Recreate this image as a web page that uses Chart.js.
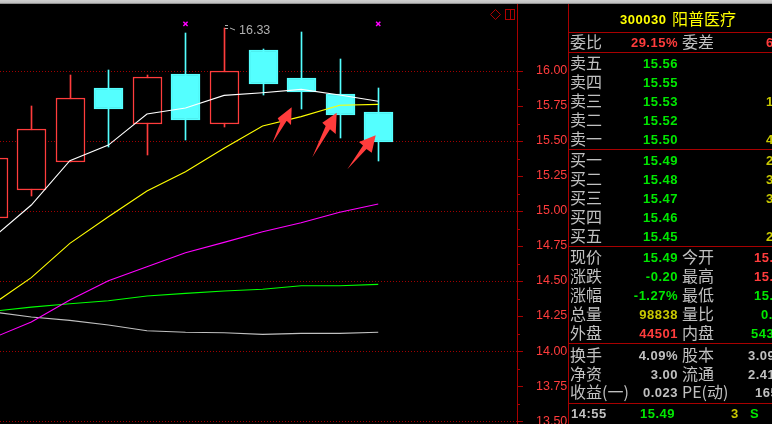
<!DOCTYPE html>
<html>
<head>
<meta charset="utf-8">
<script src="https://cdn.jsdelivr.net/npm/chart.js@4/dist/chart.umd.min.js"></script>
<style>
html, body { margin: 0; padding: 0; width: 772px; height: 424px; overflow: hidden; background: #000; }
#stage { position: relative; width: 772px; height: 424px; overflow: hidden; }
#topbar { position: absolute; left: 0; top: 0; width: 772px; height: 4px; background: linear-gradient(#d0d0d0, #c0c0c0 70%, #707070); }
canvas { position: absolute; left: 0; top: 0; }
#arrows, #icons { position: absolute; left: 0; top: 0; }
.t { position: absolute; height: 20px; white-space: pre; }
.cn { font: 16px/20px "Noto Sans CJK SC"; color: #c0c0c0; margin-top: -1px; }
.num { font: bold 13px/20px "Liberation Sans"; letter-spacing: .5px; margin-top: 1px; }
.hr { position: absolute; left: 569px; width: 203px; height: 1px; background: #a80000; }
</style>
</head>
<body>
<div id="stage">
  <canvas id="kline" width="772" height="424"></canvas>
  <div id="topbar"></div>
  <svg id="icons" width="772" height="424">
    <path d="M495.5 9.5 L500.5 14.5 L495.5 19.5 L490.5 14.5 Z" fill="none" stroke="#b00000"/>
    <rect x="505.5" y="9.5" width="9" height="10" fill="none" stroke="#b00000"/>
    <path d="M510.5 9.5 V19.5" stroke="#b00000"/>
    <path d="M568.5 4 V424" stroke="#a80000"/>
  </svg>
  <svg id="arrows" width="772" height="424">
    <path d="M272.3 143.3 L280.3 122.7 L277.7 118.3 L291.7 107.3 L291 125 L286.7 120.7 Z" fill="#ff3c3c"/>
    <path d="M312.3 157.3 L325.7 126 L322.3 122.7 L336.7 112.7 L335.7 134 L330 129.3 Z" fill="#ff3c3c"/>
    <path d="M347.3 169.3 L363 145.5 L359 142 L375.7 135.3 L371.7 152.7 L366.5 149 Z" fill="#ff3c3c"/>
  </svg>
</div>
<script>
// candles, index 0 is the one cut off by the left edge
const candleIndex = [0, 1, 2, 3, 4, 5, 6, 7, 8, 9, 10];
const opens  = [14.95, 15.148, 15.348, 15.879, 15.624, 15.979, 15.624, 16.15, 15.95, 15.836, 15.707];
const closes = [15.376, 15.584, 15.805, 15.731, 15.955, 15.65, 15.998, 15.909, 15.852, 15.686, 15.49];
const highs  = [15.376, 15.75, 15.97, 16.007, 15.971, 16.274, 16.31, 16.155, 16.279, 16.086, 15.879];
const lows   = [14.95, 15.11, 15.348, 15.459, 15.40, 15.507, 15.60, 15.829, 15.729, 15.521, 15.357];

// moving averages
const maWhite   = [14.807, 15.043, 15.359, 15.471, 15.693, 15.736, 15.826, 15.845, 15.869, 15.829, 15.784];
const maYellow  = [14.334, 14.524, 14.769, 14.959, 15.143, 15.281, 15.448, 15.607, 15.674, 15.755, 15.762];
const maMagenta = [14.093, 14.207, 14.364, 14.502, 14.602, 14.702, 14.776, 14.852, 14.916, 14.991, 15.05];
const maGreen   = [14.284, 14.314, 14.338, 14.359, 14.393, 14.412, 14.429, 14.441, 14.466, 14.466, 14.476];
const maGray    = [14.279, 14.243, 14.219, 14.186, 14.145, 14.134, 14.131, 14.119, 14.126, 14.126, 14.134];

// magenta x marks above the candles
const markIndex = [5, 10];
const markValue = [16.336, 16.336];

// highest price flag
const peakIndex = 6;
const peakLabel = '16.33';

// quote panel
const askLabels = ['卖五', '卖四', '卖三', '卖二', '卖一'];
const askPrices = ['15.56', '15.55', '15.53', '15.52', '15.50'];
const askSizes  = ['', '', '1', '', '4'];
const bidLabels = ['买一', '买二', '买三', '买四', '买五'];
const bidPrices = ['15.49', '15.48', '15.47', '15.46', '15.45'];
const bidSizes  = ['2', '3', '3', '', '2'];

const UP = '#ff3c3c', CYAN = '#54ffff', GREEN = '#00e800', YELLOW = '#c8c800', GRAY = '#c0c0c0', AXIS = '#a80000';

const isUp = closes.map((c, i) => c >= opens[i]);
const toPoints = (values) => values.map((v, i) => ({ x: candleIndex[i], y: v }));

function lineSet(values, color) {
    return { type: 'line', data: toPoints(values), borderColor: color, borderWidth: 1.1, pointRadius: 0, tension: 0, order: 1 };
}

// snap the bars to whole pixels so the thin borders and wicks stay sharp
const snapBars = {
    id: 'snapBars',
    beforeDatasetsDraw(chart) {
        chart.getSortedVisibleDatasetMetas().forEach(meta => {
            if (meta.type !== 'bar') return;
            meta.data.forEach(bar => {
                bar.x = Math.round(bar.x) + 0.5;
                bar.y = Math.round(bar.y);
                bar.base = Math.round(bar.base);
            });
        });
    }
};

const minorTicks = {
    id: 'minorTicks',
    afterDatasetsDraw(chart) {
        const { ctx, scales, chartArea } = chart;
        const y = scales.y;
        ctx.save();
        ctx.strokeStyle = AXIS;
        ctx.lineWidth = 1;
        y.ticks.forEach(t => {
            const py = Math.round(y.getPixelForValue(t.value + 0.125)) + 0.5;
            if (t.value >= 16) return;
            ctx.beginPath();
            ctx.moveTo(chartArea.right, py);
            ctx.lineTo(chartArea.right + 3, py);
            ctx.stroke();
        });
        // flag for the highest price
        const px = Math.round(scales.x.getPixelForValue(peakIndex));
        const py = Math.round(y.getPixelForValue(highs[peakIndex]));
        ctx.strokeStyle = '#b0b0b0';
        ctx.beginPath();
        ctx.moveTo(px + 1, py - 2.5);
        ctx.lineTo(px + 4, py - 2.5);
        ctx.moveTo(px + 1, py + 0.5);
        ctx.lineTo(px + 4, py + 0.5);
        ctx.moveTo(px + 6, py);
        ctx.lineTo(px + 11, py + 2);
        ctx.stroke();
        ctx.fillStyle = '#b0b0b0';
        ctx.font = '12.5px "Liberation Sans"';
        ctx.textBaseline = 'middle';
        ctx.fillText(peakLabel, px + 15, py + 3);
        ctx.restore();
    }
};

new Chart(document.getElementById('kline'), {
    data: {
        datasets: [
            lineSet(maWhite, '#ffffff'),
            lineSet(maYellow, '#ffff00'),
            lineSet(maMagenta, '#ff00ff'),
            lineSet(maGreen, '#00ff00'),
            lineSet(maGray, '#c0c0c0'),
            {
                type: 'scatter',
                data: markIndex.map((x, i) => ({ x: x, y: markValue[i] })),
                pointStyle: 'crossRot',
                pointRadius: 3,
                pointBorderColor: '#ff00ff',
                pointBorderWidth: 1.5,
                order: 1
            },
            {
                type: 'bar',
                data: candleIndex.map((x, i) => ({ x: x, y: [opens[i], closes[i]] })),
                backgroundColor: isUp.map(u => u ? '#000000' : CYAN),
                borderColor: isUp.map(u => u ? UP : CYAN),
                borderWidth: 1.5,
                borderSkipped: false,
                barThickness: 29,
                grouped: false,
                order: 2
            },
            {
                type: 'bar',
                data: candleIndex.map((x, i) => ({ x: x, y: [lows[i], highs[i]] })),
                backgroundColor: isUp.map(u => u ? UP : CYAN),
                barThickness: 1,
                grouped: false,
                order: 3
            }
        ]
    },
    plugins: [snapBars, minorTicks],
    options: {
        responsive: false,
        animation: false,
        devicePixelRatio: 1,
        layout: { autoPadding: false, padding: { left: 0, top: 4, right: 205, bottom: 0 } },
        plugins: { legend: { display: false }, tooltip: { enabled: false } },
        scales: {
            x: {
                type: 'linear',
                min: 0.188,
                max: 13.6,
                display: false,
                offset: false
            },
            y: {
                type: 'linear',
                position: 'right',
                min: 13.479,
                max: 16.4785,
                afterBuildTicks(scale) { scale.ticks = scale.ticks.filter(t => t.value <= 16); },
                afterFit(scale) {
                    scale.width = 50;
                    scale.paddingTop = 0;
                    scale.paddingBottom = 0;
                },
                border: { color: AXIS, width: 1, dash: [1, 2] },
                grid: {
                    color: (c) => (c.tick && Math.abs(c.tick.value * 2 - Math.round(c.tick.value * 2)) < 1e-6) ? '#a00000' : 'transparent',
                    tickColor: AXIS,
                    tickLength: 6,
                    lineWidth: 1
                },
                ticks: {
                    stepSize: 0.25,
                    includeBounds: false,
                    autoSkip: false,
                    maxRotation: 0,
                    padding: 13,
                    color: UP,
                    font: { family: 'Liberation Sans', size: 12.5 },
                    callback: (v) => v.toFixed(2)
                }
            }
        }
    }
});

// quote panel text
const stage = document.getElementById('stage');
function put(text, x, y, cls, color, alignRight) {
    const el = document.createElement('span');
    el.className = 't ' + cls;
    el.textContent = text;
    el.style.top = (y - 10) + 'px';
    if (alignRight) el.style.right = (772 - x) + 'px'; else el.style.left = x + 'px';
    if (color) el.style.color = color;
    stage.appendChild(el);
}
function rule(y) {
    const el = document.createElement('div');
    el.className = 'hr';
    el.style.top = y + 'px';
    stage.appendChild(el);
}

put('300030', 620, 19, 'num', '#ffff00');
put('阳普医疗', 672, 19, 'cn', '#ffff00');
put('委比', 570, 42, 'cn');
put('29.15%', 678, 42, 'num', UP, true);
put('委差', 682, 42, 'cn');
put('6', 766, 42, 'num', UP);

askLabels.forEach((label, i) => {
    const y = 63 + i * 19;
    put(label, 570, y, 'cn');
    put(askPrices[i], 678, y, 'num', GREEN, true);
    put(askSizes[i], 766, y, 'num', YELLOW);
});
bidLabels.forEach((label, i) => {
    const y = 160 + i * 19;
    put(label, 570, y, 'cn');
    put(bidPrices[i], 678, y, 'num', GREEN, true);
    put(bidSizes[i], 766, y, 'num', YELLOW);
});

const quoteRows = [
    ['现价', '15.49', GREEN, '今开', '15.', UP, 754],
    ['涨跌', '-0.20', GREEN, '最高', '15.', UP, 754],
    ['涨幅', '-1.27%', GREEN, '最低', '15.', GREEN, 754],
    ['总量', '98838', YELLOW, '量比', '0.', GREEN, 761],
    ['外盘', '44501', UP, '内盘', '543', GREEN, 751]
];
quoteRows.forEach((r, i) => {
    const y = 257 + i * 19;
    put(r[0], 570, y, 'cn');
    put(r[1], 678, y, 'num', r[2], true);
    put(r[3], 682, y, 'cn');
    put(r[4], r[6], y, 'num', r[5]);
});

const shareRows = [
    ['换手', '4.09%', '股本', '3.09', 748],
    ['净资', '3.00', '流通', '2.41', 748],
    ['收益(一)', '0.023', 'PE(动)', '165', 755]
];
shareRows.forEach((r, i) => {
    const y = 355 + i * 18.5;
    put(r[0], 570, y, 'cn');
    put(r[1], 678, y, 'num', GRAY, true);
    put(r[2], 682, y, 'cn');
    put(r[3], r[4], y, 'num', GRAY);
});

put('14:55', 571, 413, 'num', GRAY);
put('15.49', 675, 413, 'num', GREEN, true);
put('3', 731, 413, 'num', YELLOW);
put('S', 750, 413, 'num', GREEN);

[32, 52, 149, 246, 343, 403].forEach(rule);
</script>
</body>
</html>
